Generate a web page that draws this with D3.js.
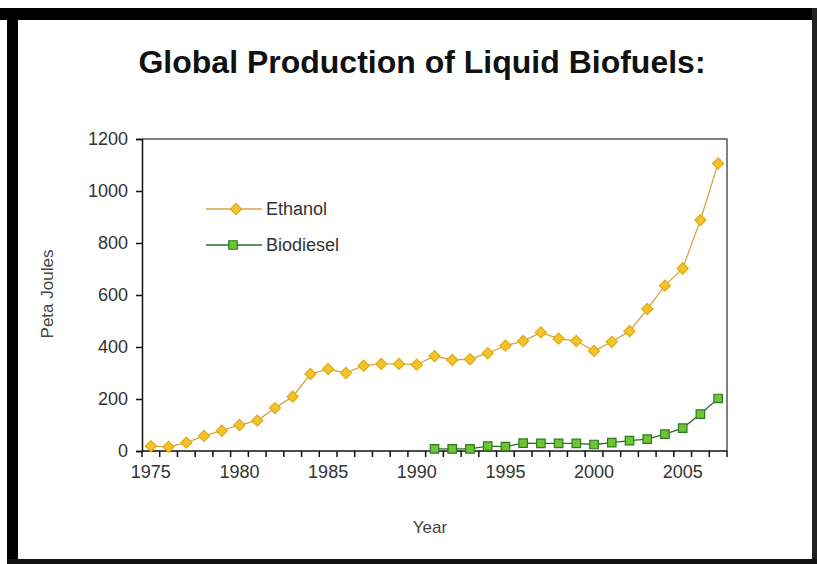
<!DOCTYPE html>
<html>
<head>
<meta charset="utf-8">
<script src="https://cdn.jsdelivr.net/npm/d3@7"></script>
<style>
  body { margin: 0; background: #fff; }
  svg { display: block; font-family: "Liberation Sans", Arial, sans-serif; }
</style>
</head>
<body>
<svg id="chart" width="817" height="564"></svg>
<script>
const years = [1975, 1976, 1977, 1978, 1979, 1980, 1981, 1982, 1983, 1984, 1985,
    1986, 1987, 1988, 1989, 1990, 1991, 1992, 1993, 1994, 1995, 1996, 1997,
    1998, 1999, 2000, 2001, 2002, 2003, 2004, 2005, 2006, 2007];
const ethanol = [19, 16, 32, 58, 78, 100, 117, 165, 209, 296, 315,
    300, 328, 335, 335, 332, 365, 350, 353, 376, 405, 423, 456,
    432, 423, 385, 420, 461, 546, 636, 702, 888, 1106];
const biodiesel = [null, null, null, null, null, null, null, null, null, null, null,
    null, null, null, null, null, 8, 8, 8, 19, 17, 30, 29,
    29, 29, 25, 32, 40, 46, 65, 88, 142, 202];
const yTicks = [0, 200, 400, 600, 800, 1000, 1200];
const xLabels = [1975, 1980, 1985, 1990, 1995, 2000, 2005];

const plot = { left: 142, right: 727, top: 139, bottom: 451 };

const svg = d3.select("#chart");

// picture frame
svg.append("rect").attr("width", 817).attr("height", 564).attr("fill", "#fff");
svg.append("rect").attr("x", 0).attr("y", 8).attr("width", 817).attr("height", 12).attr("fill", "#000");
svg.append("rect").attr("x", 7).attr("y", 8).attr("width", 11).attr("height", 556).attr("fill", "#000");
svg.append("rect").attr("x", 812).attr("y", 8).attr("width", 5).attr("height", 556).attr("fill", "#222");
svg.append("rect").attr("x", 7).attr("y", 559).attr("width", 810).attr("height", 5).attr("fill", "#111");

svg.append("text")
    .attr("x", 422).attr("y", 73)
    .attr("text-anchor", "middle")
    .attr("font-size", 32).attr("font-weight", "bold")
    .attr("fill", "#111")
    .text("Global Production of Liquid Biofuels:");

const x = d3.scaleBand().domain(years).range([plot.left, plot.right]);
const cx = d => x(d) + x.bandwidth() / 2;
const y = d3.scaleLinear().domain([0, 1200]).range([plot.bottom, plot.top]);

// plot area border (top / right)
svg.append("path")
    .attr("d", `M${plot.left},${plot.top}H${plot.right}V${plot.bottom}`)
    .attr("fill", "none").attr("stroke", "#555").attr("stroke-width", 1.5);

const yAxis = svg.append("g")
    .attr("transform", `translate(${plot.left},0)`)
    .call(d3.axisLeft(y).tickValues(yTicks).tickFormat(d3.format("d")).tickSize(6).tickPadding(8));
yAxis.select(".domain").attr("stroke", "#111").attr("stroke-width", 1.5);
yAxis.selectAll("line").attr("stroke", "#111").attr("stroke-width", 1.5);
yAxis.selectAll("text").attr("font-size", 18).attr("fill", "#333").attr("font-family", null);

// category axis: ticks between categories, labels every 5 years
const xAxis = svg.append("g").attr("transform", `translate(0,${plot.bottom})`);
xAxis.append("line")
    .attr("x1", plot.left).attr("x2", plot.right)
    .attr("stroke", "#111").attr("stroke-width", 1.5);
xAxis.selectAll(".tk")
    .data(years.concat(["end"]))
    .join("line")
    .attr("class", "tk")
    .attr("x1", d => d === "end" ? plot.right : x(d))
    .attr("x2", d => d === "end" ? plot.right : x(d))
    .attr("y1", 0).attr("y2", 6)
    .attr("stroke", "#111").attr("stroke-width", 1.5);
xAxis.selectAll(".lbl")
    .data(xLabels)
    .join("text")
    .attr("class", "lbl")
    .attr("x", cx)
    .attr("y", 27)
    .attr("text-anchor", "middle")
    .attr("font-size", 18).attr("fill", "#333")
    .text(d => d);

svg.append("text")
    .attr("x", 430).attr("y", 533)
    .attr("text-anchor", "middle")
    .attr("font-size", 17).attr("fill", "#444")
    .text("Year");

svg.append("text")
    .attr("transform", "translate(53,294) rotate(-90)")
    .attr("text-anchor", "middle")
    .attr("font-size", 17).attr("fill", "#444")
    .text("Peta Joules");

const series = [
    { name: "Ethanol", values: ethanol, line: "#D2A546", fill: "#F3C42A", edge: "#E0A91A",
      symbol: d3.symbolSquare, size: 62, rotate: 45, ly: 209, mx: 236 },
    { name: "Biodiesel", values: biodiesel, line: "#2F6A2A", fill: "#6CC534", edge: "#2E7A1C",
      symbol: d3.symbolSquare, size: 72, rotate: 0, ly: 245, mx: 233 }
];

series.forEach(s => {
    const pts = years.map((yr, i) => ({ yr, v: s.values[i] })).filter(d => d.v != null);
    svg.append("path")
        .datum(pts)
        .attr("fill", "none")
        .attr("stroke", s.line)
        .attr("stroke-width", 1.3)
        .attr("d", d3.line().x(d => cx(d.yr)).y(d => y(d.v)));
    svg.append("g").selectAll("path")
        .data(pts)
        .join("path")
        .attr("d", d3.symbol(s.symbol, s.size))
        .attr("transform", d => `translate(${cx(d.yr)},${y(d.v)}) rotate(${s.rotate})`)
        .attr("fill", s.fill)
        .attr("stroke", s.edge)
        .attr("stroke-width", 1.2);

    // legend entry
    const lg = svg.append("g");
    lg.append("line")
        .attr("x1", 206).attr("x2", 262)
        .attr("y1", s.ly).attr("y2", s.ly)
        .attr("stroke", s.line).attr("stroke-width", 1.3);
    lg.append("path")
        .attr("d", d3.symbol(s.symbol, s.size))
        .attr("transform", `translate(${s.mx},${s.ly}) rotate(${s.rotate})`)
        .attr("fill", s.fill).attr("stroke", s.edge).attr("stroke-width", 1.2);
    lg.append("text")
        .attr("x", 266).attr("y", s.ly + 6)
        .attr("font-size", 18).attr("fill", "#333")
        .text(s.name);
});
</script>
</body>
</html>
